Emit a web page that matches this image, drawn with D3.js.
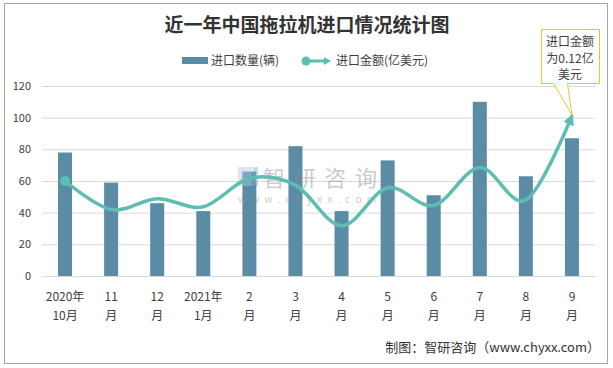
<!DOCTYPE html>
<html><head><meta charset="utf-8">
<script src="https://cdn.jsdelivr.net/npm/d3@7/dist/d3.min.js"></script>
<style>body{margin:0;background:#fff}svg{display:block}</style>
</head><body><svg id="c" width="613" height="368"></svg>
<script>
const categories = ["2020年\n10月","11\n月","12\n月","2021年\n1月","2\n月","3\n月","4\n月","5\n月","6\n月","7\n月","8\n月","9\n月"];
const quantity = [78, 59, 46, 41, 66, 82, 41, 73, 51, 110, 63, 87];            // 进口数量(辆)
const amount = [0.070, 0.049, 0.057, 0.051, 0.072, 0.067, 0.037, 0.065, 0.052, 0.080, 0.056, 0.118]; // 进口金额(亿美元)
const yTicks = [0, 20, 40, 60, 80, 100, 120];
const title = "近一年中国拖拉机进口情况统计图";
const legendLabels = ["进口数量(辆)", "进口金额(亿美元)"];
const calloutLines = ["进口金额", "为0.12亿", "美元"];
const source = "制图：智研咨询（www.chyxx.com）";

const svg = d3.select("#c");
const FONT = "'Microsoft YaHei','Noto Sans CJK SC','Noto Sans',sans-serif";
const barColor = "#5a8da5", lineColor = "#5cbdb2";

svg.append("rect").attr("x",4.5).attr("y",3.5).attr("width",603).attr("height",360)
  .attr("fill","#fff").attr("stroke","#a6a6a6");

const x = d3.scaleBand().domain(categories).range([42,595]).paddingInner(0.696).paddingOuter(0.348);
const y = d3.scaleLinear().domain([0,120]).range([276,86]);
const y2 = d3.scaleLinear().domain([0,0.14]).range([276,86]);

// grid
svg.append("g").selectAll("line").data(yTicks).join("line")
  .attr("x1",42).attr("x2",595).attr("y1",d=>y(d)+0.5).attr("y2",d=>y(d)+0.5)
  .attr("stroke","#d9d9d9");

// y axis labels
const ya = svg.append("g").attr("transform","translate(31,0)")
  .call(d3.axisLeft(y).tickValues(yTicks).tickSize(0).tickPadding(0));
ya.select(".domain").remove();
ya.selectAll("text").attr("font-family",FONT).attr("font-size",11).attr("fill","#404040");

// x axis labels
const xa = svg.append("g").attr("transform","translate(0,276)")
  .call(d3.axisBottom(x).tickSize(0).tickFormat(""));
xa.select(".domain").remove();
xa.selectAll(".tick").each(function(d){
  const parts = d.split("\n");
  const t = d3.select(this).append("text").attr("font-family",FONT).attr("font-size",12)
    .attr("fill","#404040").attr("text-anchor","middle");
  parts.forEach((p,i)=>t.append("tspan").attr("x",0).attr("y",25+i*19).text(p));
});

// bars
svg.append("g").selectAll("rect").data(quantity).join("rect")
  .attr("x",(d,i)=>x(categories[i])).attr("width",x.bandwidth())
  .attr("y",d=>y(d)).attr("height",d=>y(0)-y(d)).attr("fill",barColor);

// watermark
const wm = svg.append("g").attr("opacity",0.45);
wm.append("rect").attr("x",238).attr("y",167).attr("width",14).attr("height",19).attr("fill","#b8c4dc");
wm.append("rect").attr("x",253).attr("y",167).attr("width",5).attr("height",8).attr("fill","#7fb2e0");
wm.append("rect").attr("x",253).attr("y",177).attr("width",5).attr("height",9).attr("fill","#7fb2e0");
wm.append("text").attr("x",263).attr("y",186).attr("font-family",FONT).attr("font-size",22)
  .attr("fill","#8c8c8c").attr("textLength",114).text("智研咨询");
wm.append("text").attr("x",238).attr("y",203).attr("font-family",FONT).attr("font-size",10)
  .attr("fill","#8c8c8c").attr("textLength",138).text("www.chyxx.com");

// line
const defs = svg.append("defs");
defs.append("marker").attr("id","arr").attr("viewBox","0 0 10 10").attr("refX",8).attr("refY",5)
  .attr("markerWidth",3.2).attr("markerHeight",3.2).attr("orient","auto")
  .append("path").attr("d","M0,0 L10,5 L0,10 z").attr("fill",lineColor);
const line = d3.line().x((d,i)=>x(categories[i])+x.bandwidth()/2).y(d=>y2(d)).curve(d3.curveCardinal.tension(0));
svg.append("path").datum(amount).attr("d",line).attr("fill","none").attr("stroke",lineColor)
  .attr("stroke-width",3.5).attr("marker-end","url(#arr)");
svg.append("circle").attr("cx",x(categories[0])+x.bandwidth()/2).attr("cy",y2(amount[0])).attr("r",5).attr("fill",lineColor);

// title
svg.append("text").attr("x",307).attr("y",32).attr("text-anchor","middle").attr("font-family",FONT)
  .attr("font-size",19).attr("font-weight","bold").attr("fill","#333").text(title);

// legend
svg.append("rect").attr("x",182).attr("y",57).attr("width",26).attr("height",7).attr("fill",barColor);
svg.append("text").attr("x",211).attr("y",65).attr("font-family",FONT).attr("font-size",12).attr("fill","#404040").text(legendLabels[0]);
svg.append("line").attr("x1",305).attr("x2",325).attr("y1",61).attr("y2",61).attr("stroke",lineColor).attr("stroke-width",3);
svg.append("circle").attr("cx",306).attr("cy",61).attr("r",4.5).attr("fill",lineColor);
svg.append("path").attr("d","M324,57 L331,61 L324,65 z").attr("fill",lineColor);
svg.append("text").attr("x",336).attr("y",65).attr("font-family",FONT).attr("font-size",12).attr("fill","#404040").text(legendLabels[1]);

// callout
const tipX = x(categories[11])+x.bandwidth()/2, tipY = y2(amount[11]) - 1;
svg.append("path")
  .attr("d",`M541.5,29.5 L599.5,29.5 L599.5,83.5 L567.5,83.5 L${tipX},${tipY} L553.5,83.5 L541.5,83.5 Z`)
  .attr("fill","#fff").attr("stroke","#f2c12e").attr("stroke-width",1);
calloutLines.forEach((t,i)=>svg.append("text").attr("x",570).attr("y",46+i*16.5).attr("text-anchor","middle")
  .attr("font-family",FONT).attr("font-size",12).attr("fill","#404040").text(t));

// source
svg.append("text").attr("x",600).attr("y",352).attr("text-anchor","end").attr("font-family",FONT)
  .attr("font-size",13).attr("fill","#333").text(source);
</script></body></html>
